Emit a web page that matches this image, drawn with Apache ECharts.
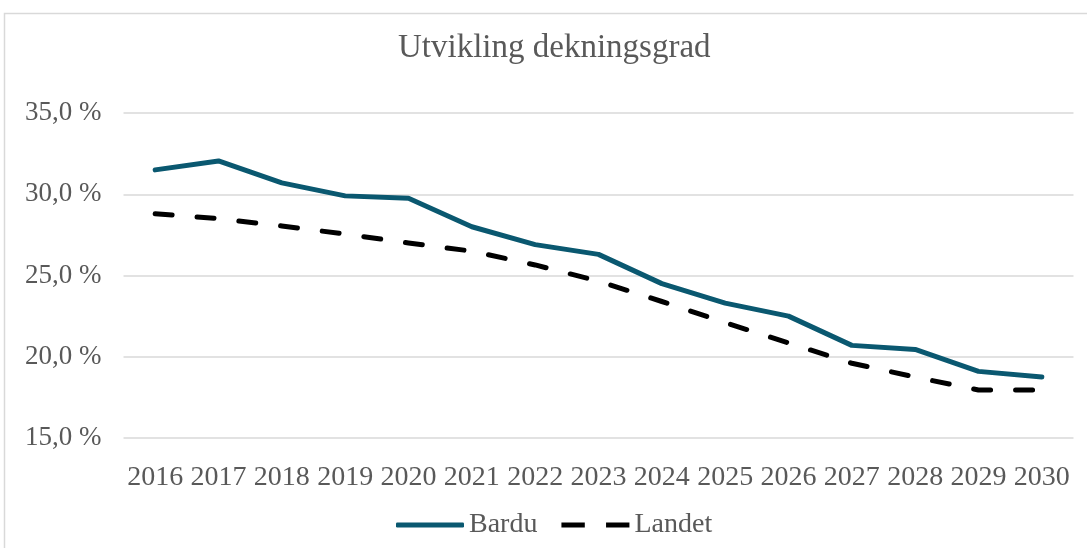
<!DOCTYPE html>
<html>
<head>
<meta charset="utf-8">
<script src="https://cdn.jsdelivr.net/npm/echarts@6/dist/echarts.min.js"></script>
<style>
  html, body { margin: 0; padding: 0; background: #fff; }
  #chart { width: 1087px; height: 548px; }
</style>
</head>
<body>
<div id="chart"></div>
<script>
// data
var years = ['2016', '2017', '2018', '2019', '2020', '2021', '2022', '2023',
  '2024', '2025', '2026', '2027', '2028', '2029', '2030'];
var bardu = [31.5, 32.05, 30.7, 29.9, 29.75, 28.0, 26.9, 26.3, 24.5, 23.3, 22.5, 20.7, 20.45, 19.1, 18.75];
var landet = [28.8, 28.5, 28.05, 27.55, 27.0, 26.5, 25.65, 24.65, 23.4, 22.1, 20.85, 19.6, 18.75, 17.95, 17.95];

var font = '"Liberation Serif", serif';
var textColor = '#595959';
var barduColor = '#0a5870';

var myChart = echarts.init(document.getElementById('chart'));

var option = {
  backgroundColor: '#fff',
  animation: false,
  textStyle: { fontFamily: font },
  title: {
    text: 'Utvikling dekningsgrad',
    left: 393,
    top: 27,
    textStyle: {
      fontFamily: font,
      fontWeight: 'normal',
      fontSize: 33,
      color: textColor
    }
  },
  // chart frame
  graphic: [{
    type: 'rect',
    silent: true,
    shape: { x: 4.5, y: 13.5, width: 1200, height: 700 },
    style: { fill: 'none', stroke: '#d9d9d9', lineWidth: 1.5 }
  }],
  legend: {
    bottom: 4,
    left: 391,
    itemWidth: 68,
    itemHeight: 5,
    itemGap: 24,
    symbolKeepAspect: false,
    textStyle: { fontFamily: font, fontSize: 28, color: textColor },
    data: [
      { name: 'Bardu', icon: 'roundRect', itemStyle: { color: barduColor } },
      {
        name: 'Landet',
        icon: 'path://M0,0h22v5h-22z M42,0h22v5h-22z',
        itemStyle: { color: '#000' }
      }
    ]
  },
  grid: {
    left: 123.5,
    right: 13.5,
    top: 113,
    bottom: 110,
    containLabel: false
  },
  xAxis: {
    type: 'category',
    boundaryGap: true,
    data: years,
    axisLine: { show: false },
    axisTick: { show: false },
    axisLabel: {
      margin: 26,
      fontFamily: font,
      fontSize: 28,
      color: textColor,
      interval: 0
    }
  },
  yAxis: {
    type: 'value',
    min: 15,
    max: 35,
    interval: 5,
    axisLine: { show: false },
    axisTick: { show: false },
    splitLine: { lineStyle: { color: '#d9d9d9', width: 1.5 } },
    axisLabel: {
      margin: 22,
      fontFamily: font,
      fontSize: 27,
      color: textColor,
      formatter: function (v) { return v.toFixed(1).replace('.', ',') + ' %'; }
    }
  },
  series: [
    {
      name: 'Bardu',
      type: 'line',
      data: bardu,
      symbol: 'none',
      color: barduColor,
      lineStyle: { color: barduColor, width: 5, cap: 'round', join: 'round' }
    },
    {
      name: 'Landet',
      type: 'line',
      data: landet,
      symbol: 'none',
      color: '#000',
      lineStyle: { color: '#000', width: 5, type: [17, 25], cap: 'round', join: 'round' }
    }
  ]
};

myChart.setOption(option);
</script>
</body>
</html>
